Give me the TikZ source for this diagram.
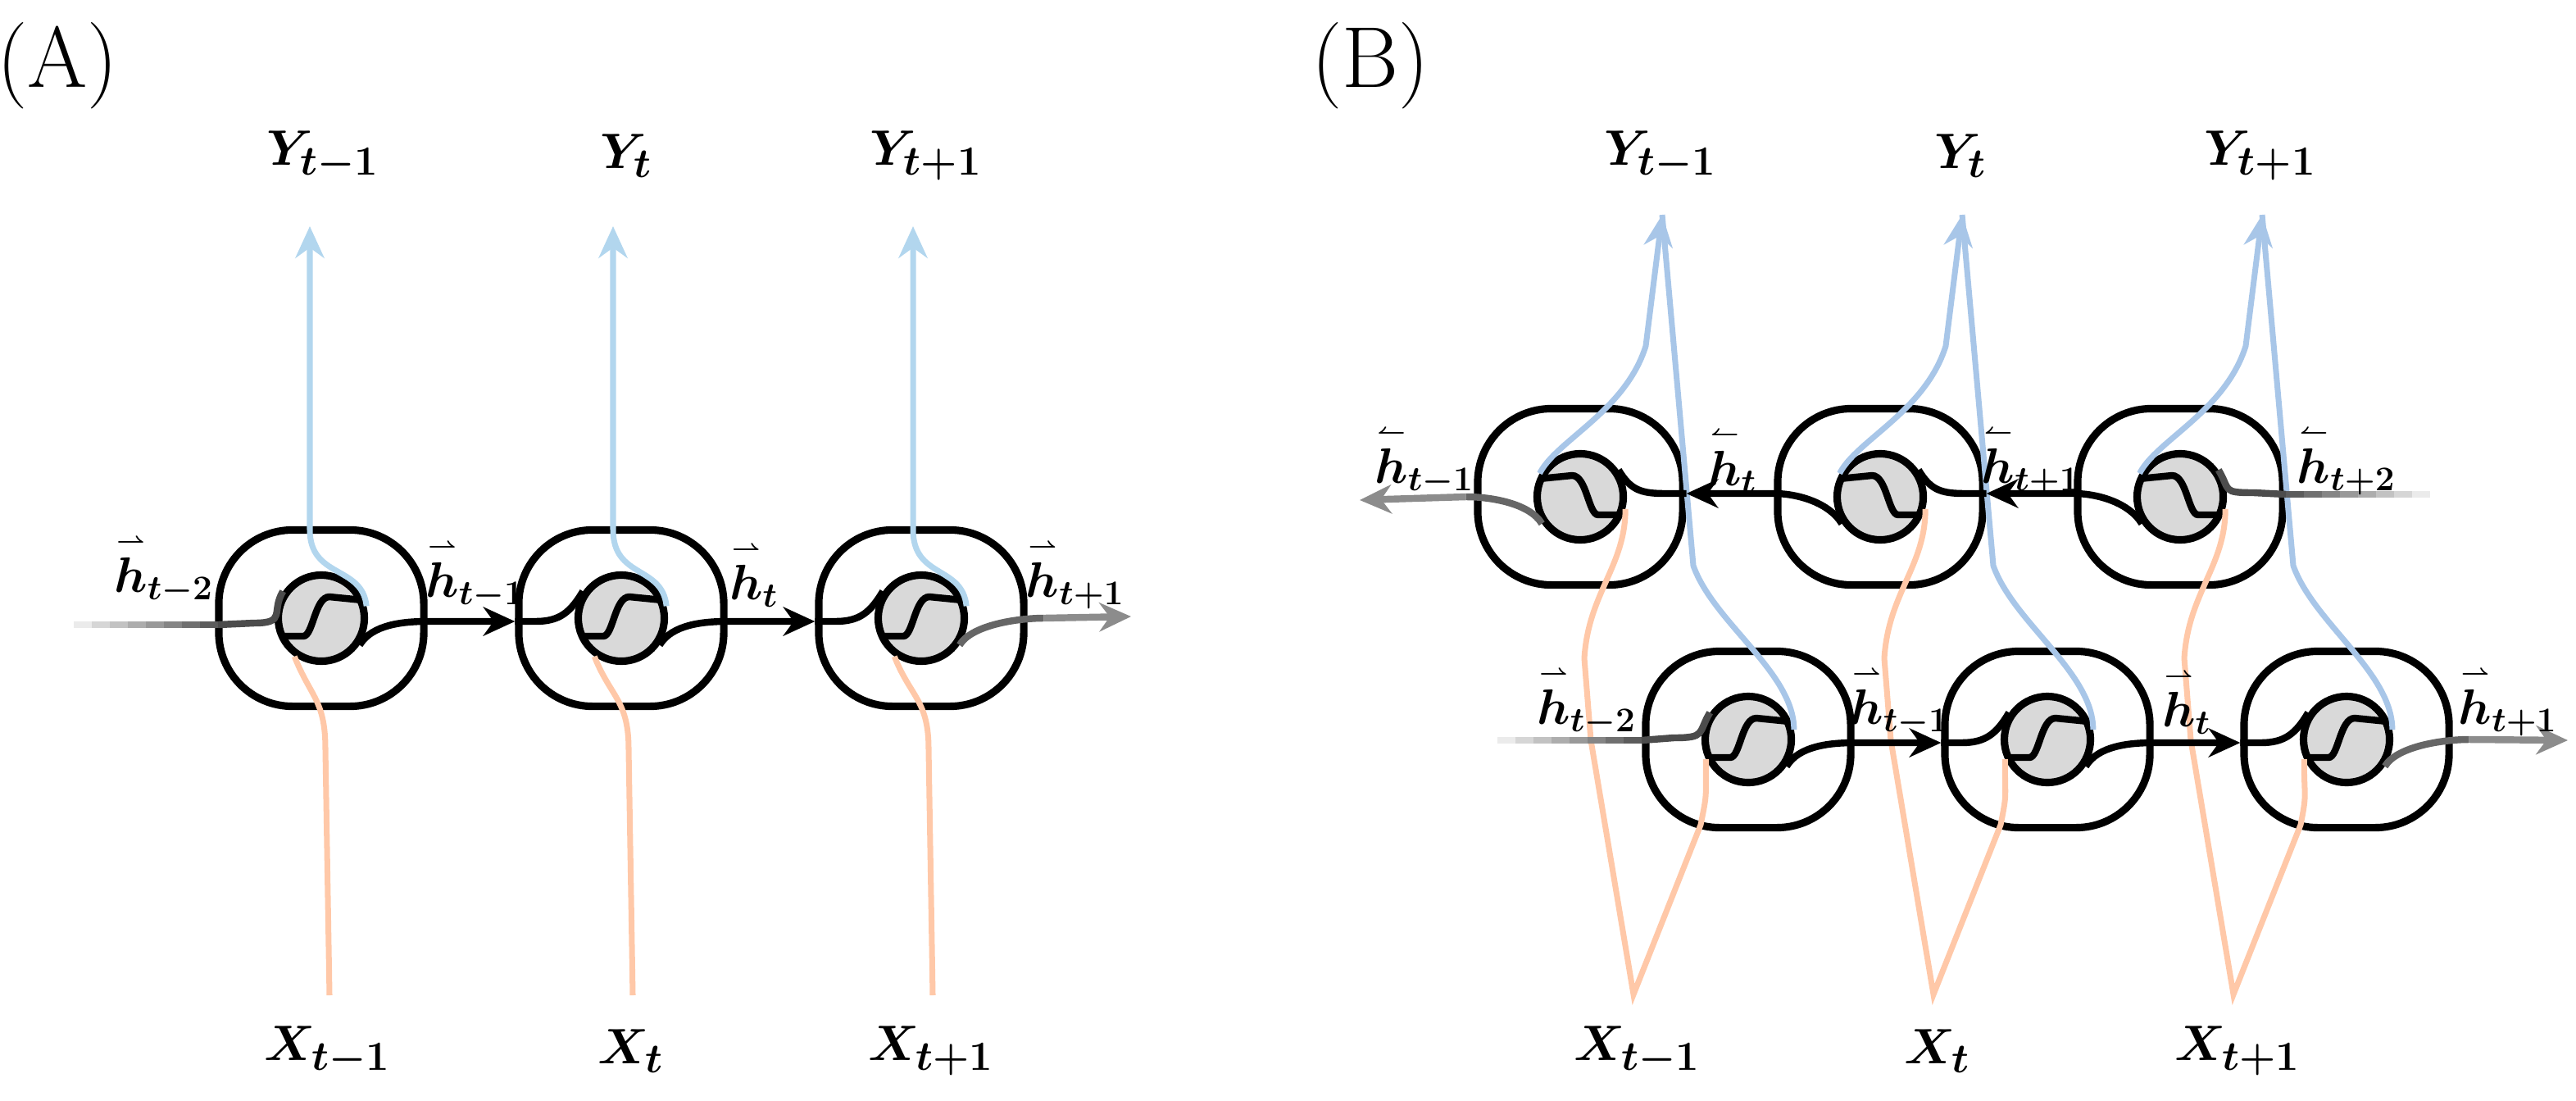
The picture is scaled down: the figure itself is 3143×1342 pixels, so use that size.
\documentclass[tikz,border=0pt]{standalone}
\usepackage{amsmath,bm}
\usetikzlibrary{arrows.meta,calc}
\definecolor{blA}{RGB}{178,214,238}
\definecolor{blB}{RGB}{168,198,232}
\definecolor{orA}{RGB}{255,200,168}
\newcommand\rv[1]{{\overset{\scriptscriptstyle\boldsymbol\rightharpoonup}{\bm h}}_{\bm{#1}}}
\newcommand\lv[1]{{\overset{\scriptscriptstyle\boldsymbol\leftharpoonup}{\bm h}}_{\bm{#1}}}
\begin{document}
\begin{tikzpicture}[x=0.01cm,y=-0.01cm,
  box/.style={draw,line width=2.6pt,rounded corners=0.9cm,minimum width=2.5cm,minimum height=2.15cm,inner sep=0},
  circ/.style={draw,line width=2.6pt,circle,fill=gray!30,minimum size=1.05cm,inner sep=0},
  wave/.style={line width=2.4pt},
  hl/.style={line width=2.4pt},
  tip/.style={-{Stealth[length=11pt,width=10pt]}},
  blue/.style={line width=2pt,color=#1},
  lab/.style={font=\fontsize{17}{19}\selectfont},
  big/.style={font=\fontsize{19}{22}\selectfont}]
\useasboundingbox (0,0) rectangle (3143,1342);
\node[font=\fontsize{30}{34}\selectfont] (LA) at (70,80) {(A)};
\node[font=\fontsize{30}{34}\selectfont] (LB) at (1672,80) {(B)};
\newcommand\fcell[3]{\node[box] (#1) at (#2,#3) {};\node[circ] (#1c) at (#2,#3) {};
  \draw[wave] ($(#1c)+(-50,22)$) -- ($(#1c)+(-22,22)$) .. controls ($(#1c)+(-10,22)$) and ($(#1c)+(-8,-26)$) .. ($(#1c)+(10,-26)$) -- ($(#1c)+(50,-22)$);}
\newcommand\bcell[3]{\node[box] (#1) at (#2,#3) {};\node[circ] (#1c) at (#2,#3) {};
  \draw[wave] ($(#1c)+(50,22)$) -- ($(#1c)+(22,22)$) .. controls ($(#1c)+(10,22)$) and ($(#1c)+(8,-26)$) .. ($(#1c)+(-10,-26)$) -- ($(#1c)+(-50,-22)$);}
% ===== Panel A =====
\foreach \n/\x in {a1/392,a2/758,a3/1124}{\fcell{\n}{\x}{754}}
\foreach \n/\x/\s in {1/394/{t-1},2/764/t,3/1130/{t+1}}{
  \node[big] (ya\n) at (\x,190) {$\bm{Y_{\s}}$};
  \node[big] (xa\n) at (\x+6,1282) {$\bm{X_{\s}}$};
  \coordinate (ta\n) at (\x-16,276);
  \coordinate (ba\n) at (\x+8,1214);}
\foreach \i in {1,2,3}{
  \draw[blue=blA,tip] (a\i c.15) .. controls +(-5,-50) and +(0,60) .. ($(ta\i)+(0,370)$) -- (ta\i);
  \draw[blue=orA] (a\i c.235) .. controls +(20,50) and +(0,-60) .. ($(ba\i)+(-5,-300)$) -- (ba\i);}
\coordinate (ina) at (90,762);
\foreach \k in {0,...,7}{\draw[line width=2.4pt,color=black!\the\numexpr 8+\k*8\relax] ($(ina)+(\k*22,0)$) -- ($(ina)+(\k*22+23,0)$);}
\draw[hl,black!70] ($(ina)+(176,0)$) -- ($(ina)+(220,-2)$) .. controls +(40,0) and +(-15,25) .. (a1c.145);
\draw[hl,tip] (a1c.-35) .. controls +(15,-25) and +(-30,0) .. ($(a1.east)+(0,4)$) -- ($(a2.west)+(0,4)$);
\draw[hl] ($(a2.west)+(0,4)$) -- +(25,0) .. controls +(30,0) and +(-15,25) .. (a2c.145);
\draw[hl,tip] (a2c.-35) .. controls +(15,-25) and +(-30,0) .. ($(a2.east)+(0,4)$) -- ($(a3.west)+(0,4)$);
\draw[hl] ($(a3.west)+(0,4)$) -- +(25,0) .. controls +(30,0) and +(-15,25) .. (a3c.145);
\coordinate (outa) at (1380,752);
\draw[hl,black!60] (a3c.-35) .. controls +(15,-25) and +(-30,0) .. ($(a3.east)+(20,0)$);
\draw[hl,black!45,tip] ($(a3.east)+(20,0)$) -- (outa);
\node[lab] (ha1) at (200,694) {$\rv{t-2}$};
\node[lab] (ha2) at (580,700) {$\rv{t-1}$};
\node[lab] (ha3) at (920,700) {$\rv{t}$};
\node[lab] (ha4) at (1312,700) {$\rv{t+1}$};
% ===== Panel B =====
\foreach \n/\x in {u1/1928,u2/2294,u3/2660}{\bcell{\n}{\x}{606}}
\foreach \n/\x in {l1/2133,l2/2498,l3/2863}{\fcell{\n}{\x}{902}}
\foreach \n/\x/\s in {1/2028/{t-1},2/2394/t,3/2760/{t+1}}{
  \node[big] (yb\n) at (\x-2,190) {$\bm{Y_{\s}}$};
  \node[big] (xb\n) at (\x-30,1282) {$\bm{X_{\s}}$};
  \coordinate (tb\n) at (\x,262);
  \coordinate (vb\n) at (\x-35,1213);}
\foreach \i in {1,2,3}{
  \draw[blue=blB,tip] (u\i c.150) .. controls +(20,-40) and +(-25,80) .. ($(tb\i)+(-20,-240)+(0,400)$) -- (tb\i);
  \draw[blue=blB] (l\i c.12) .. controls +(0,-70) and +(25,70) .. ($(tb\i)+(38,428)$) -- (tb\i);
  \draw[blue=orA] (u\i c.-15) .. controls +(0,70) and +(5,-80) .. ($(vb\i)+(-60,-410)$) -- ($(vb\i)+(-52,-310)$) -- (vb\i) -- ($(vb\i)+(82,-207)$) .. controls +(8,-40) and +(0,50) .. (l\i c.205);}
\coordinate (inb) at (2965,603);
\foreach \k in {0,...,7}{\draw[line width=2.4pt,color=black!\the\numexpr 8+\k*8\relax] ($(inb)+(-\k*22,0)$) -- ($(inb)+(-\k*22-23,0)$);}
\draw[hl,black!70] ($(inb)+(-176,0)$) -- ($(inb)+(-215,-2)$) .. controls +(-40,0) and +(15,25) .. (u3c.35);
\draw[hl,tip] (u3c.215) .. controls +(-15,-25) and +(30,0) .. ($(u3.west)+(0,-4)$) -- ($(u2.east)+(0,-4)$);
\draw[hl] ($(u2.east)+(0,-4)$) -- +(-25,0) .. controls +(-30,0) and +(15,25) .. (u2c.35);
\draw[hl,tip] (u2c.215) .. controls +(-15,-25) and +(30,0) .. ($(u2.west)+(0,-4)$) -- ($(u1.east)+(0,-4)$);
\draw[hl] ($(u1.east)+(0,-4)$) -- +(-25,0) .. controls +(-30,0) and +(15,25) .. (u1c.35);
\coordinate (outb) at (1659,610);
\draw[hl,black!60] (u1c.215) .. controls +(-15,-25) and +(30,0) .. ($(u1.west)+(-10,0)$);
\draw[hl,black!45,tip] ($(u1.west)+(-10,0)$) -- (outb);
\coordinate (inc) at (1827,903);
\foreach \k in {0,...,7}{\draw[line width=2.4pt,color=black!\the\numexpr 8+\k*8\relax] ($(inc)+(\k*22,0)$) -- ($(inc)+(\k*22+23,0)$);}
\draw[hl,black!70] ($(inc)+(176,0)$) -- ($(inc)+(215,-3)$) .. controls +(40,0) and +(-15,25) .. (l1c.145);
\draw[hl,tip] (l1c.-35) .. controls +(15,-25) and +(-30,0) .. ($(l1.east)+(0,4)$) -- ($(l2.west)+(0,4)$);
\draw[hl] ($(l2.west)+(0,4)$) -- +(25,0) .. controls +(30,0) and +(-15,25) .. (l2c.145);
\draw[hl,tip] (l2c.-35) .. controls +(15,-25) and +(-30,0) .. ($(l2.east)+(0,4)$) -- ($(l3.west)+(0,4)$);
\draw[hl] ($(l3.west)+(0,4)$) -- +(25,0) .. controls +(30,0) and +(-15,25) .. (l3c.145);
\coordinate (outc) at (3133,903);
\draw[hl,black!60] (l3c.-35) .. controls +(15,-25) and +(-30,0) .. ($(l3.east)+(20,0)$);
\draw[hl,black!45,tip] ($(l3.east)+(20,0)$) -- (outc);
\node[lab] (hb1) at (1738,561) {$\lv{t-1}$};
\node[lab] (hb2) at (2114,561) {$\lv{t}$};
\node[lab] (hb3) at (2478,561) {$\lv{t+1}$};
\node[lab] (hb4) at (2863,561) {$\lv{t+2}$};
\node[lab] (hc1) at (1936,855) {$\rv{t-2}$};
\node[lab] (hc2) at (2318,855) {$\rv{t-1}$};
\node[lab] (hc3) at (2668,855) {$\rv{t}$};
\node[lab] (hc4) at (3060,855) {$\rv{t+1}$};
\end{tikzpicture}
\end{document}
